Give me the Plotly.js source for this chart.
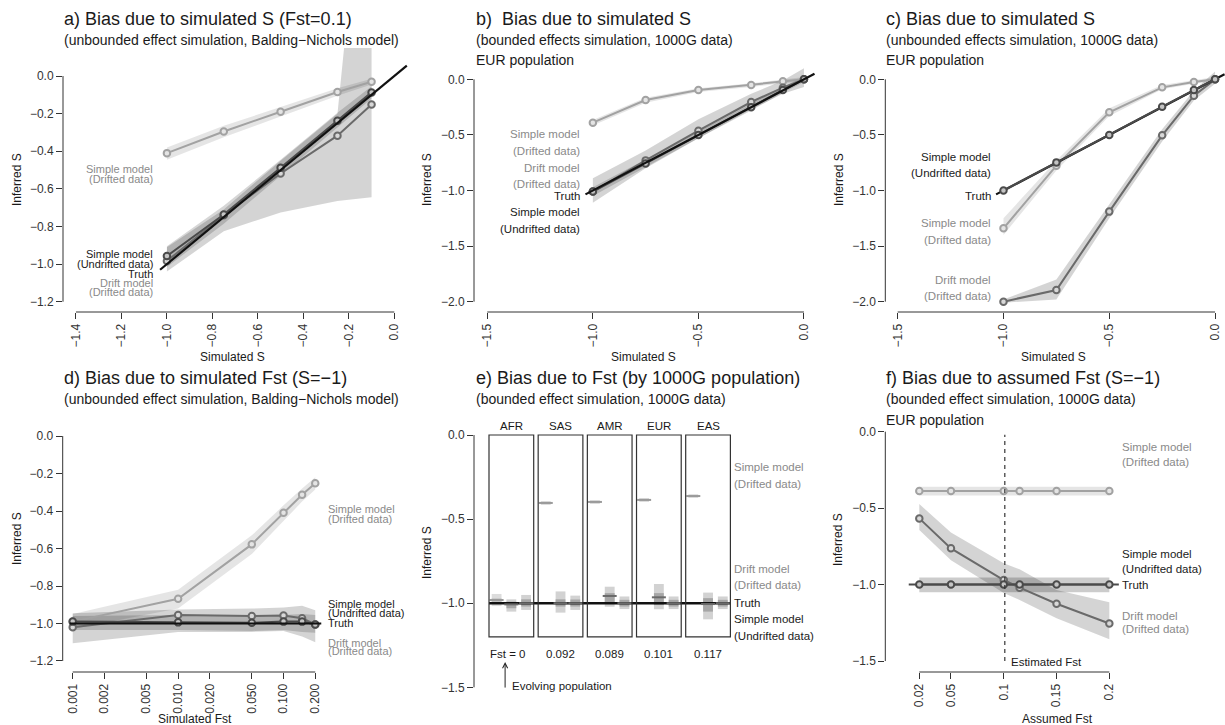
<!DOCTYPE html>
<html><head><meta charset="utf-8">
<script src="https://cdn.plot.ly/plotly-3.0.1.min.js"></script>
<style>html,body{margin:0;padding:0;background:#fff}#chart{width:1225px;height:725px}</style>
</head><body><div id="chart"></div>
<script>
// ================= DATA =================
// Panel a: bias due to simulated S (Fst=0.1), Balding-Nichols
const aSimS = [-1, -0.75, -0.5, -0.25, -0.1];
const aSimpleDrifted = [-0.41, -0.295, -0.19, -0.085, -0.03];
const aSimpleDriftedLo = [-0.445, -0.325, -0.215, -0.105, -0.045];
const aSimpleDriftedHi = [-0.38, -0.265, -0.165, -0.065, -0.015];
const aDriftModel = [-0.984, -0.74, -0.518, -0.317, -0.151];
const aDriftModelLo = [-1.04, -0.825, -0.725, -0.665, -0.645];
const aDriftModelHi = [-0.91, -0.71, -0.45, -0.2, 1.6];
const aSimpleUndrifted = [-0.957, -0.736, -0.488, -0.238, -0.087];
const aSimpleUndriftedLo = [-1.015, -0.785, -0.53, -0.275, -0.12];
const aSimpleUndriftedHi = [-0.905, -0.69, -0.445, -0.195, -0.055];
const aTruthX = [-1.03, 0.055];
const aXTicks = [-1.4, -1.2, -1.0, -0.8, -0.6, -0.4, -0.2, 0.0];
const aYTicks = [-1.2, -1.0, -0.8, -0.6, -0.4, -0.2, 0.0];

// Panel b: bounded effects, 1000G EUR
const bSimS = [-1, -0.75, -0.5, -0.25, -0.1, 0];
const bSimpleDrifted = [-0.39, -0.186, -0.096, -0.051, -0.018, 0];
const bSimpleDriftedLo = [-0.415, -0.21, -0.115, -0.07, -0.035, -0.02];
const bSimpleDriftedHi = [-0.365, -0.165, -0.08, -0.035, -0.002, 0.02];
const bDriftModel = [-1.01, -0.729, -0.462, -0.204, -0.075, 0];
const bDriftModelLo = [-1.11, -0.80, -0.53, -0.27, -0.13, -0.07];
const bDriftModelHi = [-0.89, -0.64, -0.36, -0.13, -0.01, 0.1];
const bSimpleUndrifted = [-1.01, -0.756, -0.5, -0.252, -0.096, 0];
const bSimpleUndriftedLo = [-1.05, -0.79, -0.53, -0.28, -0.12, -0.025];
const bSimpleUndriftedHi = [-0.97, -0.72, -0.47, -0.22, -0.07, 0.025];
const bTruthX = [-1.035, 0.05];

// Panel c: unbounded effects, 1000G EUR
const cSimS = [-1, -0.75, -0.5, -0.25, -0.1, 0];
const cSimpleDrifted = [-1.34, -0.777, -0.297, -0.072, -0.024, 0];
const cSimpleDriftedLo = [-1.40, -0.82, -0.33, -0.09, -0.04, -0.02];
const cSimpleDriftedHi = [-1.25, -0.73, -0.26, -0.05, -0.01, 0.02];
const cDriftModel = [-2.0, -1.895, -1.19, -0.504, -0.147, 0];
const cDriftModelLo = [-2.01, -1.98, -1.25, -0.56, -0.19, -0.04];
const cDriftModelHi = [-1.98, -1.80, -1.13, -0.45, -0.10, 0.07];
const cSimpleUndrifted = [-1.0, -0.747, -0.5, -0.246, -0.096, 0];
const cSimpleUndriftedLo = [-1.015, -0.76, -0.512, -0.258, -0.108, -0.012];
const cSimpleUndriftedHi = [-0.985, -0.734, -0.488, -0.234, -0.084, 0.012];
const cTruthX = [-1.035, 0.045];
const bcXTicks = [-1.5, -1.0, -0.5, 0.0];
const bcYTicks = [-2.0, -1.5, -1.0, -0.5, 0.0];

// Panel d: bias due to simulated Fst (S=-1)
const dFst = [0.001, 0.01, 0.05, 0.1, 0.15, 0.2];
const dSimpleDrifted = [-0.99, -0.868, -0.578, -0.409, -0.313, -0.252];
const dSimpleDriftedLo = [-1.03, -0.92, -0.63, -0.45, -0.35, -0.285];
const dSimpleDriftedHi = [-0.95, -0.82, -0.53, -0.37, -0.28, -0.22];
const dDriftModel = [-1.02, -0.955, -0.96, -0.958, -0.972, -1.005];
const dDriftModelLo = [-1.106, -1.045, -1.045, -1.04, -1.07, -1.10];
const dDriftModelHi = [-0.946, -0.925, -0.92, -0.915, -0.905, -0.93];
const dSimpleUndrifted = [-0.99, -0.994, -0.996, -0.99, -0.99, -1.005];
const dSimpleUndriftedLo = [-1.035, -1.035, -1.04, -1.035, -1.045, -1.05];
const dSimpleUndriftedHi = [-0.96, -0.955, -0.955, -0.955, -0.95, -0.955];
const dTruthX = [0.00094, 0.228];
const dXTicks = [0.001, 0.002, 0.005, 0.01, 0.02, 0.05, 0.1, 0.2];
const dXTickText = ['0.001', '0.002', '0.005', '0.010', '0.020', '0.050', '0.100', '0.200'];

// Panel e: bias due to Fst by 1000G population
const ePops = ['AFR', 'SAS', 'AMR', 'EUR', 'EAS'];
const eFstLabels = ['Fst = 0', '0.092', '0.089', '0.101', '0.117'];
const eSDMed = [-0.981, -0.404, -0.398, -0.386, -0.363];
const eSDLo95 = [-1.017, -0.416, -0.41, -0.398, -0.374];
const eSDHi95 = [-0.945, -0.393, -0.387, -0.375, -0.352];
const eSDLo50 = [-1.001, -0.41, -0.404, -0.392, -0.368];
const eSDHi50 = [-0.971, -0.398, -0.392, -0.38, -0.358];
const eDMMed = [-1.007, -1.0, -0.957, -0.965, -1.005];
const eDMLo95 = [-1.05, -1.056, -1.021, -1.036, -1.096];
const eDMHi95 = [-0.977, -0.93, -0.902, -0.886, -0.937];
const eDMLo50 = [-1.03, -1.02, -1.005, -1.011, -1.05];
const eDMHi50 = [-0.991, -0.977, -0.94, -0.94, -0.97];
const eSUMed = [-1.0, -1.0, -1.0, -1.0, -1.0];
const eSULo95 = [-1.04, -1.04, -1.035, -1.035, -1.035];
const eSUHi95 = [-0.951, -0.955, -0.96, -0.96, -0.96];
const eSULo50 = [-1.02, -1.02, -1.02, -1.02, -1.02];
const eSUHi50 = [-0.977, -0.978, -0.98, -0.98, -0.98];
const eYTicks = [-1.5, -1.0, -0.5, 0.0];

// Panel f: bias due to assumed Fst (S=-1)
const fFst = [0.02, 0.05, 0.1, 0.115, 0.15, 0.2];
const fSimpleDrifted = [-0.388, -0.388, -0.388, -0.388, -0.388, -0.388];
const fSimpleDriftedLo = [-0.418, -0.418, -0.418, -0.418, -0.418, -0.418];
const fSimpleDriftedHi = [-0.36, -0.36, -0.36, -0.36, -0.36, -0.36];
const fDriftModel = [-0.567, -0.763, -0.97, -1.02, -1.125, -1.254];
const fDriftModelLo = [-0.643, -0.84, -1.055, -1.10, -1.22, -1.358];
const fDriftModelHi = [-0.473, -0.66, -0.86, -0.90, -1.036, -1.116];
const fSimpleUndrifted = [-1.0, -1.0, -1.0, -1.0, -1.0, -1.0];
const fSimpleUndriftedLo = [-1.05, -1.05, -1.05, -1.05, -1.05, -1.05];
const fSimpleUndriftedHi = [-0.953, -0.953, -0.953, -0.953, -0.953, -0.953];
const fTruthX = [0.01, 0.209];
const fEstimatedFst = 0.101;
const fXTicks = [0.02, 0.05, 0.1, 0.15, 0.2];
const fXTickText = ['0.02', '0.05', '0.1', '0.15', '0.2'];

// ================= STYLE =================
const W = 1225, H = 725;
const FONT = '"Liberation Sans", Arial, Helvetica, sans-serif';
const px = x => x / W, py = y => 1 - y / H;
const COL = {
  sdLine: '#a2a2a2', sdBand: 'rgba(0,0,0,0.10)', sdFill: '#e4e4e4',
  dmLine: '#6a6a6a', dmBand: 'rgba(0,0,0,0.17)', dmFill: '#d8d8d8',
  suLine: '#4a4a4a', suBand: 'rgba(0,0,0,0.16)', suFill: '#c4c4c4',
  truth: '#111111', axis: '#333333', text: '#1a1a1a', grey: '#8a8a8a'
};
const TITLE = 18, SUB = 14, TICK = 12, AXT = 12, LAB = 11;

const traces = [];
function band(xs, lo, hi, fill, xa, ya) {
  traces.push({type: 'scatter', mode: 'lines', x: xs.concat(xs.slice().reverse()),
    y: lo.concat(hi.slice().reverse()), fill: 'toself', fillcolor: fill,
    line: {width: 0, color: 'rgba(0,0,0,0)'}, hoverinfo: 'skip', showlegend: false, xaxis: xa, yaxis: ya});
}
function series(xs, ys, color, fillc, xa, ya) {
  traces.push({type: 'scatter', mode: 'lines+markers', x: xs, y: ys,
    line: {color: color, width: 2}, marker: {symbol: 'circle', size: 6.5, color: fillc, line: {color: color, width: 2}},
    showlegend: false, xaxis: xa, yaxis: ya});
}
function hline(xs, yv, color, width, xa, ya, dash) {
  traces.push({type: 'scatter', mode: 'lines', x: xs, y: xs.map(() => yv),
    line: {color: color, width: width, dash: dash || 'solid'}, hoverinfo: 'skip', showlegend: false, xaxis: xa, yaxis: ya});
}
function diag(xs, color, width, xa, ya) {
  traces.push({type: 'scatter', mode: 'lines', x: xs, y: xs.slice(),
    line: {color: color, width: width}, hoverinfo: 'skip', showlegend: false, xaxis: xa, yaxis: ya});
}

// ---- panel a
band(aSimS, aDriftModelLo, aDriftModelHi, COL.dmBand, 'x', 'y');
band(aSimS, aSimpleDriftedLo, aSimpleDriftedHi, COL.sdBand, 'x', 'y');
band(aSimS, aSimpleUndriftedLo, aSimpleUndriftedHi, COL.suBand, 'x', 'y');
series(aSimS, aSimpleDrifted, COL.sdLine, COL.sdFill, 'x', 'y');
series(aSimS, aDriftModel, COL.dmLine, COL.dmFill, 'x', 'y');
series(aSimS, aSimpleUndrifted, COL.suLine, COL.suFill, 'x', 'y');
diag(aTruthX, COL.truth, 2.2, 'x', 'y');

// ---- panel b
band(bSimS, bDriftModelLo, bDriftModelHi, COL.dmBand, 'x2', 'y2');
band(bSimS, bSimpleDriftedLo, bSimpleDriftedHi, COL.sdBand, 'x2', 'y2');
band(bSimS, bSimpleUndriftedLo, bSimpleUndriftedHi, COL.suBand, 'x2', 'y2');
series(bSimS, bSimpleDrifted, COL.sdLine, COL.sdFill, 'x2', 'y2');
series(bSimS, bDriftModel, COL.dmLine, COL.dmFill, 'x2', 'y2');
series(bSimS, bSimpleUndrifted, COL.suLine, COL.suFill, 'x2', 'y2');
diag(bTruthX, COL.truth, 2.2, 'x2', 'y2');

// ---- panel c
band(cSimS, cDriftModelLo, cDriftModelHi, COL.dmBand, 'x3', 'y3');
band(cSimS, cSimpleDriftedLo, cSimpleDriftedHi, COL.sdBand, 'x3', 'y3');
band(cSimS, cSimpleUndriftedLo, cSimpleUndriftedHi, COL.suBand, 'x3', 'y3');
series(cSimS, cSimpleDrifted, COL.sdLine, COL.sdFill, 'x3', 'y3');
series(cSimS, cDriftModel, COL.dmLine, COL.dmFill, 'x3', 'y3');
diag(cTruthX, COL.truth, 2.2, 'x3', 'y3');
series(cSimS, cSimpleUndrifted, COL.suLine, COL.suFill, 'x3', 'y3');

// ---- panel d
band(dFst, dDriftModelLo, dDriftModelHi, COL.dmBand, 'x4', 'y4');
band(dFst, dSimpleDriftedLo, dSimpleDriftedHi, COL.sdBand, 'x4', 'y4');
band(dFst, dSimpleUndriftedLo, dSimpleUndriftedHi, COL.suBand, 'x4', 'y4');
series(dFst, dSimpleDrifted, COL.sdLine, COL.sdFill, 'x4', 'y4');
series(dFst, dDriftModel, COL.dmLine, COL.dmFill, 'x4', 'y4');
series(dFst, dSimpleUndrifted, COL.suLine, COL.suFill, 'x4', 'y4');
hline(dTruthX, -1, COL.truth, 2.2, 'x4', 'y4');

// ---- panel e
const eOffsets = [0.17, 0.5, 0.83];
const eBoxStep = 1.1;
function eBars(k, lo, hi, color) {
  const xs = ePops.map((_, i) => i * eBoxStep + eOffsets[k]);
  traces.push({type: 'bar', x: xs, base: lo, y: hi.map((h, i) => h - lo[i]), width: 0.22,
    marker: {color: color, line: {width: 0}}, hoverinfo: 'skip', showlegend: false, xaxis: 'x5', yaxis: 'y5'});
}
function eMed(k, med, color) {
  const xs = ePops.map((_, i) => i * eBoxStep + eOffsets[k]);
  traces.push({type: 'scatter', mode: 'markers', x: xs, y: med,
    marker: {symbol: 'line-ew', size: 10, line: {color: color, width: 2}},
    hoverinfo: 'skip', showlegend: false, xaxis: 'x5', yaxis: 'y5'});
}
eBars(0, eSDLo95, eSDHi95, '#dcdcdc'); eBars(0, eSDLo50, eSDHi50, '#c2c2c2');
eBars(1, eDMLo95, eDMHi95, '#d2d2d2'); eBars(1, eDMLo50, eDMHi50, '#a6a6a6');
eBars(2, eSULo95, eSUHi95, '#d2d2d2'); eBars(2, eSULo50, eSUHi50, '#a6a6a6');
hline([0, (ePops.length - 1) * eBoxStep + 1], -1, COL.truth, 2.5, 'x5', 'y5');
eMed(0, eSDMed, '#9a9a9a'); eMed(1, eDMMed, '#6a6a6a'); eMed(2, eSUMed, '#6a6a6a');

// ---- panel f
band(fFst, fDriftModelLo, fDriftModelHi, COL.dmBand, 'x6', 'y6');
band(fFst, fSimpleDriftedLo, fSimpleDriftedHi, COL.sdBand, 'x6', 'y6');
band(fFst, fSimpleUndriftedLo, fSimpleUndriftedHi, 'rgba(0,0,0,0.2)', 'x6', 'y6');
hline(fTruthX, -1, '#4a4a4a', 2, 'x6', 'y6');
series(fFst, fSimpleDrifted, COL.sdLine, COL.sdFill, 'x6', 'y6');
series(fFst, fDriftModel, COL.dmLine, COL.dmFill, 'x6', 'y6');
series(fFst, fSimpleUndrifted, COL.suLine, COL.suFill, 'x6', 'y6');
traces.push({type: 'scatter', mode: 'lines', x: [fEstimatedFst, fEstimatedFst], y: [-1.5, -0.02],
  line: {color: '#333', width: 1.2, dash: '4px,4px'}, hoverinfo: 'skip', showlegend: false, xaxis: 'x6', yaxis: 'y6'});

// ================= LAYOUT =================
function ax(extra) {
  return Object.assign({showgrid: false, zeroline: false, showline: false, ticks: 'outside', ticklen: 6,
    tickwidth: 1, tickcolor: COL.axis, tickfont: {family: FONT, size: TICK, color: '#333'}, fixedrange: true}, extra);
}
const layout = {
  width: W, height: H, margin: {l: 0, r: 0, t: 0, b: 0}, paper_bgcolor: '#fff', plot_bgcolor: 'rgba(0,0,0,0)',
  showlegend: false, barmode: 'overlay', font: {family: FONT, color: COL.text},
  xaxis: ax({domain: [px(63), px(410)], range: [-1.457, 0.069], anchor: 'y', tickvals: aXTicks, tickformat: '.1f', tickangle: -90}),
  yaxis: ax({domain: [py(312), py(48)], range: [-1.2547, 0.149], anchor: 'x', tickvals: aYTicks, tickformat: '.1f'}),
  xaxis2: ax({domain: [px(474), px(816)], range: [-1.563, 0.057], anchor: 'y2', tickvals: bcXTicks, tickformat: '.1f', tickangle: -90}),
  yaxis2: ax({domain: [py(312), py(66)], range: [-2.093, 0.12], anchor: 'x2', tickvals: bcYTicks, tickformat: '.1f'}),
  xaxis3: ax({domain: [px(885.3), px(1225)], range: [-1.5586, 0.047], anchor: 'y3', tickvals: bcXTicks, tickformat: '.1f', tickangle: -90}),
  yaxis3: ax({domain: [py(312), py(66)], range: [-2.093, 0.12], anchor: 'x3', tickvals: bcYTicks, tickformat: '.1f'}),
  xaxis4: ax({domain: [px(62.7), px(322)], type: 'log', range: [-3.095, -0.635], anchor: 'y4', tickvals: dXTicks, ticktext: dXTickText, tickangle: -90}),
  yaxis4: ax({domain: [py(672), py(430)], range: [-1.2587, 0.032], anchor: 'x4', tickvals: aYTicks, tickformat: '.1f'}),
  xaxis5: ax({domain: [px(474), px(735)], range: [-0.3356, 5.503], anchor: 'y5', visible: false}),
  yaxis5: ax({domain: [py(695), py(430)], range: [-1.5458, 0.0297], anchor: 'x5', tickvals: eYTicks, tickformat: '.1f'}),
  xaxis6: ax({domain: [px(885.3), px(1120)], range: [-0.0122, 0.2101], anchor: 'y6', tickvals: fXTicks, ticktext: fXTickText, tickangle: -90}),
  yaxis6: ax({domain: [py(672), py(425)], range: [-1.5716, 0.0438], anchor: 'x6', tickvals: eYTicks, tickformat: '.1f'}),
  shapes: [], annotations: []
};

// axis lines (R style: only between first and last tick)
function xLine(xa, ya, ticks) {
  layout.shapes.push({type: 'line', xref: xa, yref: ya + ' domain', x0: Math.min(...ticks), x1: Math.max(...ticks), y0: 0, y1: 0, line: {color: COL.axis, width: 1}});
}
function yLine(xa, ya, ticks) {
  layout.shapes.push({type: 'line', xref: xa + ' domain', yref: ya, x0: 0, x1: 0, y0: Math.min(...ticks), y1: Math.max(...ticks), line: {color: COL.axis, width: 1}});
}
xLine('x', 'y', aXTicks); yLine('x', 'y', aYTicks);
xLine('x2', 'y2', bcXTicks); yLine('x2', 'y2', bcYTicks);
xLine('x3', 'y3', bcXTicks); yLine('x3', 'y3', bcYTicks);
xLine('x4', 'y4', dXTicks); yLine('x4', 'y4', aYTicks);
yLine('x5', 'y5', eYTicks);
xLine('x6', 'y6', fXTicks); yLine('x6', 'y6', eYTicks);

// panel e boxes
ePops.forEach((p, i) => {
  layout.shapes.push({type: 'rect', xref: 'x5', yref: 'y5', x0: i * eBoxStep, x1: i * eBoxStep + 1, y0: -1.2, y1: 0,
    line: {color: '#333', width: 1.2}, fillcolor: 'rgba(0,0,0,0)', layer: 'above'});
  layout.annotations.push({xref: 'x5', yref: 'y5', x: i * eBoxStep + 0.5, y: 0, yshift: 9, text: p, showarrow: false,
    xanchor: 'center', yanchor: 'middle', font: {family: FONT, size: 11.5, color: COL.text}});
  layout.annotations.push({xref: 'x5', yref: 'y5', x: i * eBoxStep + 0.5, y: -1.302, xshift: i === 0 ? -4 : 0, text: eFstLabels[i], showarrow: false,
    xanchor: 'center', yanchor: 'middle', font: {family: FONT, size: 11.5, color: COL.text}});
});
layout.annotations.push({xref: 'x5', yref: 'y5', x: 0.36, y: -1.35, ax: 0, ay: 33, text: ' ', showarrow: true,
  arrowhead: 5, arrowsize: 1, arrowwidth: 1, arrowcolor: '#222', font: {family: FONT, size: 11}});

// text helper in pixel coords
function T(text, x, y, size, color, xanchor, extra) {
  layout.annotations.push(Object.assign({text: text, xref: 'paper', yref: 'paper', x: px(x), y: py(y), showarrow: false,
    xanchor: xanchor || 'left', yanchor: 'middle', font: {family: FONT, size: size, color: color}}, extra || {}));
}
T('Evolving population', 510, 686, 11.5, COL.text, 'left');
T('Estimated Fst', 1009, 662, 11.5, COL.text, 'left');

// titles
T('a) Bias due to simulated S (Fst=0.1)', 62, 19, TITLE, COL.text);
T('(unbounded effect simulation, Balding\u2212Nichols model)', 62, 40, SUB, COL.text);
T('b)  Bias due to simulated S', 474, 19, TITLE, COL.text);
T('(bounded effects simulation, 1000G data)', 474, 40, SUB, COL.text);
T('EUR population', 474, 60, SUB, COL.text);
T('c) Bias due to simulated S', 884, 19, TITLE, COL.text);
T('(unbounded effects simulation, 1000G data)', 884, 40, SUB, COL.text);
T('EUR population', 884, 60, SUB, COL.text);
T('d) Bias due to simulated Fst (S=\u22121)', 62, 378, TITLE, COL.text);
T('(unbounded effect simulation, Balding\u2212Nichols model)', 62, 399, SUB, COL.text);
T('e) Bias due to Fst (by 1000G population)', 474, 378, TITLE, COL.text);
T('(bounded effect simulation, 1000G data)', 474, 399, SUB, COL.text);
T('f) Bias due to assumed Fst (S=\u22121)', 884, 378, TITLE, COL.text);
T('(bounded effect simulation, 1000G data)', 884, 399, SUB, COL.text);
T('EUR population', 884, 420, SUB, COL.text);

// axis titles
const rot = {textangle: -90};
T('Inferred S', 17, 180, AXT, COL.text, 'center', rot);
T('Inferred S', 427, 180, AXT, COL.text, 'center', rot);
T('Inferred S', 839, 180, AXT, COL.text, 'center', rot);
T('Inferred S', 17, 539, AXT, COL.text, 'center', rot);
T('Inferred S', 427, 553, AXT, COL.text, 'center', rot);
T('Inferred S', 838, 540, AXT, COL.text, 'center', rot);
T('Simulated S', 232, 357, AXT, COL.text, 'center');
T('Simulated S', 643, 357, AXT, COL.text, 'center');
T('Simulated S', 1053, 357, AXT, COL.text, 'center');
T('Simulated Fst', 195, 719, AXT, COL.text, 'center');
T('Assumed Fst', 1057, 719, AXT, COL.text, 'center');

// series labels
const G = COL.grey, K = COL.text;
function labels(list, x, anchor, size) { list.forEach(l => T(l[0], x, l[1], size || LAB, l[2], anchor)); }
labels([['Simple model', 169, G], ['(Drifted data)', 179, G], ['Simple model', 254, K], ['(Undrifted data)', 264, K],
  ['Truth', 274, K], ['Drift model', 283, G], ['(Drifted data)', 292, G]], 155, 'right');
labels([['Simple model', 134, G], ['(Drifted data)', 151, G], ['Drift model', 168, G], ['(Drifted data)', 184, G],
  ['Truth', 196, K], ['Simple model', 212, K], ['(Undrifted data)', 229, K]], 582, 'right', 11.5);
labels([['Simple model', 157, K], ['(Undrifted data)', 173, K], ['Truth', 196, K], ['Simple model', 223, G],
  ['(Drifted data)', 240, G], ['Drift model', 280, G], ['(Drifted data)', 296, G]], 993, 'right', 11.5);
labels([['Simple model', 509, G], ['(Drifted data)', 519, G], ['Simple model', 604, K], ['(Undrifted data)', 613, K],
  ['Truth', 623, K], ['Drift model', 643, G], ['(Drifted data)', 651, G]], 326, 'left');
labels([['Simple model', 467, G], ['(Drifted data)', 484, G], ['Drift model', 569, G], ['(Drifted data)', 585, G],
  ['Truth', 603, K], ['Simple model', 619, K], ['(Undrifted data)', 636, K]], 732, 'left', 11.5);
labels([['Simple model', 447, G], ['(Drifted data)', 462, G], ['Simple model', 554, K], ['(Undrifted data)', 569, K],
  ['Truth', 585, K], ['Drift model', 616, G], ['(Drifted data)', 629, G]], 1120, 'left', 11.5);

Plotly.newPlot('chart', traces, layout, {staticPlot: true, displayModeBar: false});
</script>
</body></html>
